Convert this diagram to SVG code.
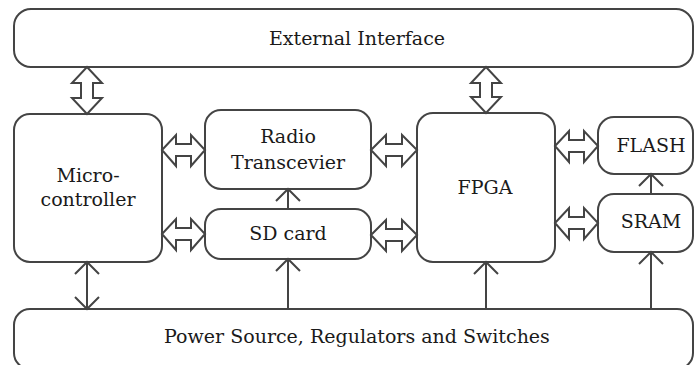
<svg xmlns="http://www.w3.org/2000/svg" width="694" height="365" viewBox="0 0 694 365">
  <defs>
    <style>
      .box { fill: #ffffff; stroke: #444444; stroke-width: 2; }
      .blk { fill: #ffffff; stroke: #444444; stroke-width: 2; stroke-linejoin: miter; }
      .wire { fill: none; stroke: #444444; stroke-width: 2; }
      .lbl { font-family: "DejaVu Serif", "Liberation Serif", serif; font-size: 19px; fill: #1a1a1a; text-anchor: middle; }
    </style>
    <marker id="chev" markerUnits="userSpaceOnUse" markerWidth="30" markerHeight="30" refX="15" refY="15" orient="auto-start-reverse" viewBox="0 0 30 30">
      <path d="M3,3 L15,15 L3,27" fill="none" stroke="#444444" stroke-width="2"/>
    </marker>
  </defs>
  <rect width="694" height="365" fill="#ffffff"/>

  <g id="external-interface">
    <rect class="box" x="14" y="9" width="679" height="58" rx="17"/>
    <text class="lbl" x="357" y="45">External Interface</text>
  </g>

  <g id="microcontroller">
    <rect class="box" x="14" y="114" width="148" height="148" rx="16"/>
    <text class="lbl" x="88" y="182">Micro-</text>
    <text class="lbl" x="88" y="206">controller</text>
  </g>

  <g id="radio-transceiver">
    <rect class="box" x="205" y="110" width="166" height="79" rx="16"/>
    <text class="lbl" x="288" y="143">Radio</text>
    <text class="lbl" x="288" y="169">Transcevier</text>
  </g>

  <g id="sd-card">
    <rect class="box" x="205" y="209" width="166" height="50" rx="16"/>
    <text class="lbl" x="288" y="240">SD card</text>
  </g>

  <g id="fpga">
    <rect class="box" x="417" y="113" width="138" height="149" rx="16"/>
    <text class="lbl" x="485" y="194">FPGA</text>
  </g>

  <g id="flash">
    <rect class="box" x="598" y="117" width="95" height="57" rx="16"/>
    <text class="lbl" x="651" y="152">FLASH</text>
  </g>

  <g id="sram">
    <rect class="box" x="598" y="194" width="95" height="58" rx="16"/>
    <text class="lbl" x="651" y="228">SRAM</text>
  </g>

  <g id="power">
    <rect class="box" x="14" y="309" width="679" height="60" rx="16"/>
    <text class="lbl" x="357" y="343">Power Source, Regulators and Switches</text>
  </g>

  <g id="connectors">
    <!-- bus links (hollow double arrows) -->
    <polygon class="blk" points="87,67 102,83 93,83 93,98 102,98 87,114 72,98 81,98 81,83 72,83"/>
    <polygon class="blk" points="486,67 501,83 492,83 492,97 501,97 486,113 471,97 480,97 480,83 471,83"/>
    <polygon class="blk" points="162,150 176,135 176,144 191,144 191,135 205,150 191,166 191,156 176,156 176,166"/>
    <polygon class="blk" points="162,234 176,219 176,228 191,228 191,219 205,234 191,250 191,240 176,240 176,250"/>
    <polygon class="blk" points="371,150 386,135 386,144 402,144 402,135 417,150 402,166 402,156 386,156 386,166"/>
    <polygon class="blk" points="371,235 386,220 386,229 402,229 402,220 417,235 402,251 402,241 386,241 386,251"/>
    <polygon class="blk" points="555,146 569,131 569,140 584,140 584,131 598,146 584,162 584,152 569,152 569,162"/>
    <polygon class="blk" points="555,223 569,208 569,217 584,217 584,208 598,223 584,239 584,229 569,229 569,239"/>

    <!-- power and control lines -->
    <line class="wire" x1="87" y1="262" x2="87" y2="309" marker-start="url(#chev)" marker-end="url(#chev)"/>
    <line class="wire" x1="288" y1="209" x2="288" y2="189" marker-end="url(#chev)"/>
    <line class="wire" x1="288" y1="309" x2="288" y2="259" marker-end="url(#chev)"/>
    <line class="wire" x1="486" y1="309" x2="486" y2="262" marker-end="url(#chev)"/>
    <line class="wire" x1="651" y1="309" x2="651" y2="252" marker-end="url(#chev)"/>
    <line class="wire" x1="651" y1="194" x2="651" y2="174" marker-end="url(#chev)"/>
  </g>
</svg>
